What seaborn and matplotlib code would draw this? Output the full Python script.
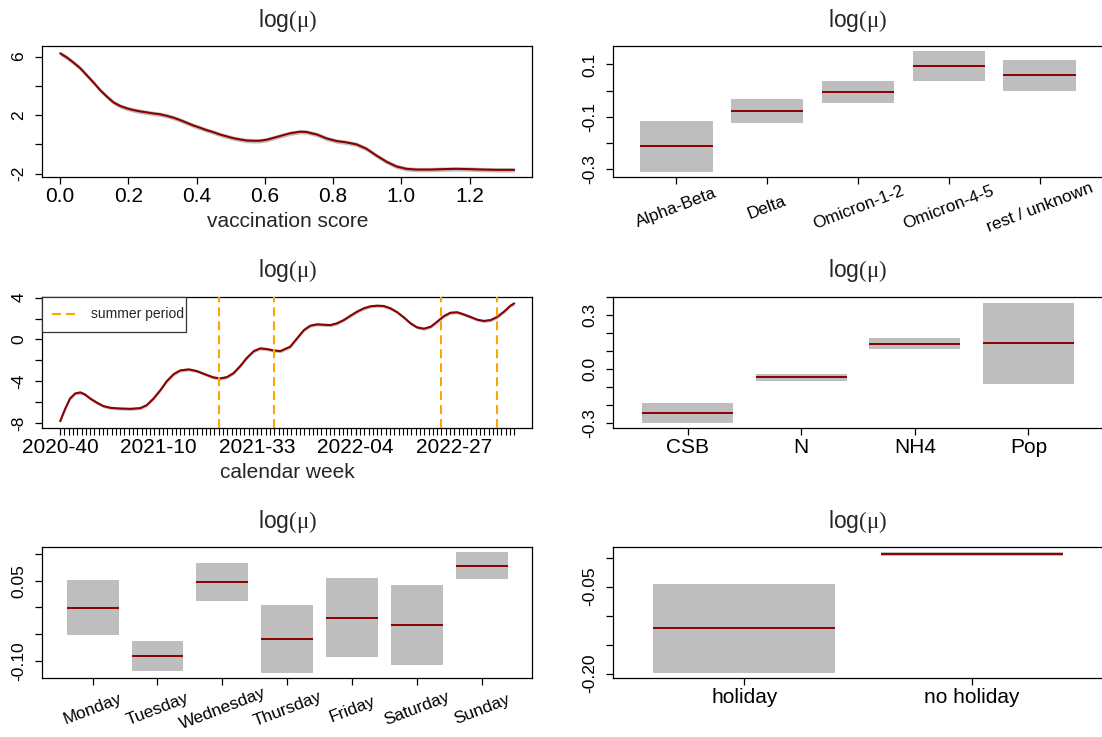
import numpy as np
import matplotlib
matplotlib.use("Agg")
import matplotlib.pyplot as plt
import seaborn as sns
from datetime import date

# ---------------- data ----------------
# smooth effect of the vaccination score
vacc_score = [0.0, 0.02, 0.039, 0.059, 0.078, 0.098, 0.117, 0.137, 0.156, 0.176,
              0.195, 0.215, 0.234, 0.254, 0.273, 0.293, 0.312, 0.332, 0.351, 0.371,
              0.39, 0.41, 0.429, 0.449, 0.468, 0.488, 0.507, 0.527, 0.546, 0.566,
              0.585, 0.605, 0.624, 0.644, 0.673, 0.703, 0.722, 0.752, 0.781, 0.81,
              0.839, 0.869, 0.898, 0.927, 0.957, 0.986, 1.015, 1.045, 1.083, 1.123,
              1.162, 1.201, 1.24, 1.279, 1.318, 1.331]
vacc_effect = [6.22, 5.93, 5.59, 5.20, 4.72, 4.22, 3.71, 3.26, 2.87, 2.62,
               2.46, 2.34, 2.25, 2.18, 2.11, 2.05, 1.95, 1.82, 1.66, 1.47,
               1.29, 1.13, 0.97, 0.83, 0.67, 0.54, 0.42, 0.33, 0.26, 0.24,
               0.24, 0.31, 0.43, 0.56, 0.75, 0.86, 0.84, 0.67, 0.40, 0.22,
               0.13, -0.01, -0.31, -0.77, -1.20, -1.52, -1.68, -1.73, -1.73, -1.70,
               -1.68, -1.70, -1.73, -1.75, -1.75, -1.75]
vacc_band = 0.15
vacc_xticks = [0.0, 0.2, 0.4, 0.6, 0.8, 1.0, 1.2]
vacc_xlabels = ["0.0", "0.2", "0.4", "0.6", "0.8", "1.0", "1.2"]
vacc_yticks = [-2, 0, 2, 4, 6]
vacc_ylabels = ["-2", "", "2", "", "6"]

# smooth effect of calendar time (position = weeks since the first week)
week_pos = [0, 1.2, 2.3, 3.5, 4.7, 5.8, 7.0, 8.6, 10.1, 11.7, 14.0, 16.4, 18.7,
            20.2, 21.8, 23.4, 24.9, 26.5, 28.0, 30.0, 31.9, 33.9, 35.8, 37.4,
            38.9, 40.5, 42.1, 43.6, 45.2, 46.7, 48.3, 49.8, 51.4, 53.7, 55.3,
            56.9, 58.4, 60.0, 61.5, 63.1, 64.6, 66.2, 67.8, 69.3, 70.9, 72.4,
            74.0, 75.5, 77.1, 78.7, 80.2, 81.8, 83.3, 84.9, 86.5, 88.0, 89.6,
            91.1, 92.7, 94.2, 95.8, 97.4, 98.9, 100.5, 102.0, 103.6, 105.1, 106]
week_effect = [-7.81, -6.60, -5.64, -5.16, -5.06, -5.26, -5.64, -6.05, -6.37,
               -6.53, -6.60, -6.63, -6.56, -6.28, -5.64, -4.84, -3.98, -3.31,
               -2.96, -2.86, -3.02, -3.34, -3.63, -3.72, -3.60, -3.21, -2.51,
               -1.75, -1.11, -0.85, -0.92, -1.05, -1.11, -0.69, 0.11, 0.90, 1.32,
               1.45, 1.41, 1.38, 1.54, 1.86, 2.28, 2.66, 2.98, 3.17, 3.23, 3.20,
               2.98, 2.60, 2.12, 1.54, 1.16, 1.03, 1.22, 1.70, 2.24, 2.56, 2.60,
               2.40, 2.15, 1.89, 1.77, 1.86, 2.15, 2.66, 3.23, 3.45]
week_band = 0.15
first_week = (2020, 40)
n_weeks = 107
week_label_step = 23
summer_weeks = ["2021-24", "2021-37", "2022-24", "2022-37"]
week_yticks = [-8, -6, -4, -2, 0, 2, 4]
week_ylabels = ["-8", "", "-4", "", "0", "", "4"]

# virus variants
variants = ["Alpha-Beta", "Delta", "Omicron-1-2", "Omicron-4-5", "rest / unknown"]
variant_est = [-0.213, -0.078, -0.005, 0.095, 0.058]
variant_lo = [-0.312, -0.126, -0.046, 0.038, -0.001]
variant_hi = [-0.115, -0.031, 0.037, 0.151, 0.118]
variant_yticks = [-0.3, -0.2, -0.1, 0.0, 0.1]
variant_ylabels = ["-0.3", "", "-0.1", "", "0.1"]

# normalisation parameter
normalizers = ["CSB", "N", "NH4", "Pop"]
norm_est = [-0.244, -0.046, 0.141, 0.143]
norm_lo = [-0.300, -0.065, 0.109, -0.085]
norm_hi = [-0.191, -0.030, 0.172, 0.369]
norm_yticks = [-0.3, -0.2, -0.1, 0.0, 0.1, 0.2, 0.3, 0.4]
norm_ylabels = ["-0.3", "", "", "0.0", "", "", "0.3", ""]

# day of the week
weekdays = ["Monday", "Tuesday", "Wednesday", "Thursday", "Friday", "Saturday", "Sunday"]
day_est = [-0.0006, -0.091, 0.0475, -0.058, -0.019, -0.0325, 0.078]
day_lo = [-0.051, -0.119, 0.0125, -0.122, -0.0925, -0.107, 0.0525]
day_hi = [0.0506, -0.062, 0.0825, 0.005, 0.054, 0.042, 0.103]
day_yticks = [-0.10, -0.05, 0.0, 0.05, 0.10]
day_ylabels = ["-0.10", "", "", "0.05", ""]

# public holidays
holidays = ["holiday", "no holiday"]
hol_est = [-0.122, 0.0064]
hol_lo = [-0.199, 0.0023]
hol_hi = [-0.046, 0.0093]
hol_yticks = [-0.20, -0.15, -0.10, -0.05, 0.0]
hol_ylabels = ["-0.20", "", "", "-0.05", ""]

# ---------------- style ----------------
sns.set_style("ticks")
plt.rcParams["font.family"] = ["Liberation Sans", "DejaVu Sans"]
plt.rcParams["mathtext.fontset"] = "custom"
plt.rcParams["mathtext.rm"] = "Liberation Serif"
plt.rcParams["mathtext.it"] = "Liberation Serif:italic"
plt.rcParams["mathtext.sf"] = "Liberation Sans"
plt.rcParams["axes.edgecolor"] = "black"
plt.rcParams["axes.linewidth"] = 0.9
plt.rcParams["xtick.color"] = "black"
plt.rcParams["ytick.color"] = "black"

RED = "#8B0000"
GREY = "#BEBEBE"
ORANGE = "#FFA500"
TITLE = r"$\mathsf{log}\mathrm{(\mu)}$"

W, H = 1102, 737
BOX_H = 130.6


def add_panel(fig, left_px, top_px, width_px):
    return fig.add_axes([left_px / W, 1 - (top_px + BOX_H) / H, width_px / W, BOX_H / H])


def r_limits(lo, hi):
    pad = 0.04 * (hi - lo)
    return lo - pad, hi + pad


def finish_axes(ax, yticks, ylabels, open_right=False):
    ax.set_yticks(yticks)
    ax.set_yticklabels(ylabels, rotation=90, va="center", ha="center", fontsize=12.5)
    ax.tick_params(axis="y", length=5, width=0.9, pad=11.6, left=True)
    ax.tick_params(axis="x", length=5, width=0.9, bottom=True)
    ax.text(0.5, 1 + 19.6 / BOX_H, TITLE, transform=ax.transAxes, ha="center",
            va="baseline", fontsize=16.5)
    for s in ax.spines.values():
        s.set_visible(True)
        s.set_color("black")
    if open_right:
        ax.spines["right"].set_visible(False)


def plain_xlabels(ax, ticks, labels):
    ax.set_xticks(ticks)
    ax.set_xticklabels(labels, fontsize=15, va="baseline")
    ax.tick_params(axis="x", pad=13.4)


def rotated_xlabels(ax, labels):
    ax.set_xticks(range(len(labels)))
    ax.set_xticklabels(labels, fontsize=12.4, rotation=21, rotation_mode="anchor",
                       ha="center", va="center")
    ax.tick_params(axis="x", pad=17.4)


def axis_title(ax, text):
    ax.set_xlabel(text, fontsize=15, va="baseline")
    ax.xaxis.set_label_coords(0.5, -50 / BOX_H)


def smooth_panel(ax, x, y, band):
    x = np.asarray(x, dtype=float)
    y = np.asarray(y, dtype=float)
    ax.fill_between(x, y - band, y + band, color=GREY, lw=0, zorder=1)
    sns.lineplot(x=x, y=y, color=RED, lw=1.5, ax=ax, zorder=2)
    ax.set_xlim(*r_limits(x.min(), x.max()))
    ax.set_ylim(*r_limits((y - band).min(), (y + band).max()))
    ax.set_ylabel("")


def factor_panel(ax, cats, est, lo, hi):
    lo = np.asarray(lo, dtype=float)
    hi = np.asarray(hi, dtype=float)
    n = len(cats)
    sns.barplot(x=cats, y=hi - lo, bottom=lo, order=cats, color=GREY, saturation=1,
                width=0.8, errorbar=None, linewidth=0, ax=ax)
    pos = np.arange(n)
    ax.hlines(est, pos - 0.4, pos + 0.4, color=RED, lw=1.4, zorder=3)
    ax.set_xlim(-0.5 - 0.04 * n, n - 0.5 + 0.04 * n)
    ax.set_ylim(*r_limits(lo.min(), hi.max()))
    ax.set_xlabel("")
    ax.set_ylabel("")


def iso_week_labels(start, n):
    year, week = start
    out = []
    for _ in range(n):
        out.append(f"{year}-{week:02d}")
        week += 1
        if week > date(year, 12, 28).isocalendar()[1]:
            year, week = year + 1, 1
    return out


fig = plt.figure(figsize=(W / 100, H / 100), dpi=100)
LEFT, RIGHT = 42.0, 612.5
ROWS = [46.3, 297.0, 547.3]
PW = 490.4

# vaccination score
ax = add_panel(fig, LEFT, ROWS[0], PW)
smooth_panel(ax, vacc_score, vacc_effect, vacc_band)
plain_xlabels(ax, vacc_xticks, vacc_xlabels)
axis_title(ax, "vaccination score")
finish_axes(ax, vacc_yticks, vacc_ylabels)

# variants
ax = add_panel(fig, RIGHT, ROWS[0], PW + 0.6)
factor_panel(ax, variants, variant_est, variant_lo, variant_hi)
rotated_xlabels(ax, variants)
finish_axes(ax, variant_yticks, variant_ylabels, open_right=True)

# calendar week
week_labels = iso_week_labels(first_week, n_weeks)
ax = add_panel(fig, LEFT, ROWS[1], PW)
smooth_panel(ax, week_pos, week_effect, week_band)
ax.set_xlim(*r_limits(0, n_weeks - 1))
major = list(range(0, n_weeks, week_label_step))
plain_xlabels(ax, major, [week_labels[i] for i in major])
ax.set_xticks(range(n_weeks), minor=True)
ax.tick_params(axis="x", which="minor", length=5, width=0.8)
for i, wk in enumerate(summer_weeks):
    ax.axvline(week_labels.index(wk), color=ORANGE, lw=1.5, dashes=(4.3, 2.4),
               zorder=3, label="summer period" if i == 0 else None)
axis_title(ax, "calendar week")
finish_axes(ax, week_yticks, week_ylabels)
leg = ax.legend(loc="upper left", bbox_to_anchor=(0, 1 - 36.5 / BOX_H, 144 / PW, 36.5 / BOX_H),
                mode="expand", borderaxespad=0, fontsize=10, frameon=True, fancybox=False,
                edgecolor="#333333", framealpha=1, borderpad=0.75, handlelength=2.0,
                handletextpad=0.8)
leg.get_frame().set_linewidth(0.9)

# normalisation
ax = add_panel(fig, RIGHT, ROWS[1], PW + 0.6)
factor_panel(ax, normalizers, norm_est, norm_lo, norm_hi)
plain_xlabels(ax, range(len(normalizers)), normalizers)
finish_axes(ax, norm_yticks, norm_ylabels, open_right=True)

# weekday
ax = add_panel(fig, LEFT, ROWS[2], PW)
factor_panel(ax, weekdays, day_est, day_lo, day_hi)
rotated_xlabels(ax, weekdays)
finish_axes(ax, day_yticks, day_ylabels)

# holidays
ax = add_panel(fig, RIGHT, ROWS[2], PW + 0.6)
factor_panel(ax, holidays, hol_est, hol_lo, hol_hi)
plain_xlabels(ax, range(len(holidays)), holidays)
finish_axes(ax, hol_yticks, hol_ylabels, open_right=True)

fig.savefig("out.png", dpi=100, facecolor="white")
